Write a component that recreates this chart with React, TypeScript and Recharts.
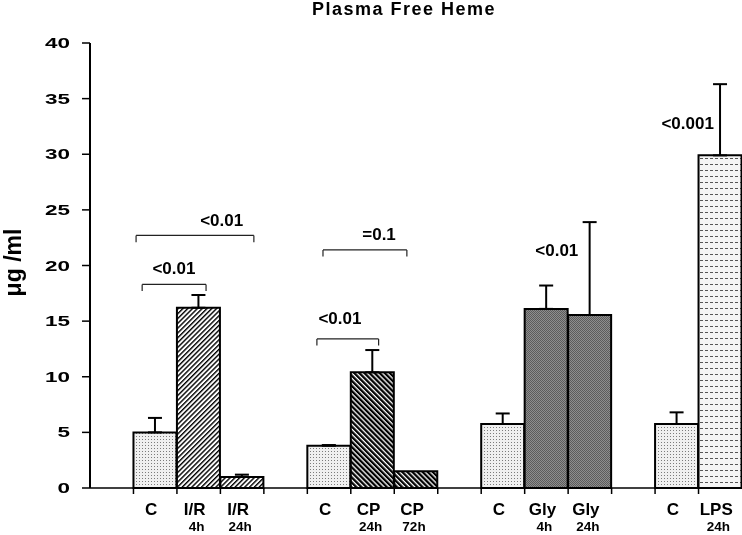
import {
  BarChart,
  Bar,
  Cell,
  XAxis,
  YAxis,
  ErrorBar,
  ReferenceLine,
  ReferenceDot,
} from "recharts";

const slotIds = ["s0", "c1", "ir4", "ir24", "s1", "c2", "cp24", "cp72", "s2", "c3", "gly4", "gly24", "s3", "c4", "lps24"];
const labelTop = ["", "C", "I/R", "I/R", "", "C", "CP", "CP", "", "C", "Gly", "Gly", "", "C", "LPS"];
const labelBottom = ["", "", "4h", "24h", "", "", "24h", "72h", "", "", "4h", "24h", "", "", "24h"];
const means = [null, 5.0, 16.2, 1.0, null, 3.8, 10.4, 1.5, null, 5.75, 16.1, 15.55, null, 5.75, 29.9];
const sems = [null, 1.3, 1.15, 0.2, null, 0.06, 2.0, null, null, 0.95, 2.1, 8.35, null, 1.05, 6.4];
const yTicks = [0, 5, 10, 15, 20, 25, 30, 35, 40];

// significance brackets, in slot units on the x axis
const brackets = [
  { from: 1.06, to: 3.77, y: 22.7 },
  { from: 1.2, to: 2.67, y: 18.3 },
  { from: 5.36, to: 7.29, y: 21.4 },
  { from: 5.22, to: 6.64, y: 13.4 },
];
const pLabels = [
  { text: "<0.01", x: 3.03, y: 24.1 },
  { text: "<0.01", x: 1.93, y: 19.8 },
  { text: "=0.1", x: 6.65, y: 22.8 },
  { text: "<0.01", x: 5.75, y: 15.3 },
  { text: "<0.01", x: 10.74, y: 21.4 },
  { text: "<0.001", x: 13.75, y: 32.8 },
];

const slotPattern = [null, "dots", "fwd", "fwd", null, "dots", "back", "back", null, "dots", "mesh", "mesh", null, "dots", "dash"];

const W = 742;
const H = 535;
const Y_W = 90;
const X_H = 47;
const BAND = (W - Y_W) / slotIds.length;
const FONT = "'Liberation Sans', Arial, sans-serif";

const data = slotIds.map((id, i) => ({
  id,
  slot: i,
  value: means[i],
  err: sems[i] == null ? null : [0, sems[i]],
}));

const XTick = ({ x, y, payload }: any) => {
  const i = payload.index;
  return (
    <g>
      {i > 0 && <line x1={x - BAND / 2} x2={x - BAND / 2} y1={y} y2={y + 6} stroke="#000" strokeWidth={1.5} />}
      <text x={x - 4} y={y + 27} textAnchor="middle" fontFamily={FONT} fontWeight="bold" fontSize={17} fill="#000">
        {labelTop[i]}
      </text>
      <text x={x - 2} y={y + 43} textAnchor="middle" fontFamily={FONT} fontWeight="bold" fontSize={13.5} fill="#000">
        {labelBottom[i]}
      </text>
    </g>
  );
};

const YTick = ({ x, y, payload }: any) => {
  const s = String(payload.value);
  return (
    <text
      x={x}
      y={y}
      dy={5}
      textAnchor="end"
      fontFamily={FONT}
      fontWeight="bold"
      fontSize={14}
      fill="#000"
      textLength={s.length * 12.5}
      lengthAdjust="spacingAndGlyphs"
    >
      {s}
    </text>
  );
};

const YLabel = ({ viewBox }: any) => (
  <text
    transform={`translate(21, ${viewBox.y + viewBox.height / 2 - 3}) rotate(-90)`}
    textAnchor="middle"
    fontFamily={FONT}
    fontWeight="bold"
    fontSize={23}
    fill="#000"
  >
    μg /ml
  </text>
);

export default function App() {
  return (
    <div style={{ position: "fixed", left: 0, top: 0, width: W, height: H, background: "#fff" }}>
      <div
        style={{
          position: "absolute",
          top: 0,
          left: 404,
          transform: "translateX(-50%)",
          whiteSpace: "nowrap",
          fontFamily: FONT,
          fontWeight: "bold",
          fontSize: 18,
          lineHeight: "18px",
          letterSpacing: 1.5,
          color: "#000",
        }}
      >
        Plasma Free Heme
      </div>
      <BarChart
        width={W}
        height={H}
        data={data}
        margin={{ top: 43, right: 0, bottom: 0, left: 0 }}
        barCategoryGap={0}
        barGap={0}
      >
        <defs>
          <pattern id="dots" patternUnits="userSpaceOnUse" width={3} height={3}>
            <rect width={3} height={3} fill="#f0f0f0" />
            <rect x={1} y={1} width={1} height={1} fill="#7c7c7c" />
          </pattern>
          <pattern id="fwd" patternUnits="userSpaceOnUse" width={3.4} height={3.4} patternTransform="rotate(45)">
            <rect width={3.4} height={3.4} fill="#fff" />
            <rect width={1.4} height={3.4} fill="#000" />
          </pattern>
          <pattern id="back" patternUnits="userSpaceOnUse" width={3.6} height={3.6} patternTransform="rotate(-45)">
            <rect width={3.6} height={3.6} fill="#fff" />
            <rect width={2.3} height={3.6} fill="#000" />
          </pattern>
          <pattern id="mesh" patternUnits="userSpaceOnUse" width={2} height={2}>
            <rect width={2} height={2} fill="#8e8e8e" />
            <rect width={1} height={1} fill="#5c5c5c" />
            <rect x={1} y={1} width={1} height={1} fill="#5c5c5c" />
          </pattern>
          <pattern id="dash" patternUnits="userSpaceOnUse" width={5} height={6}>
            <rect width={5} height={6} fill="#f4f4f4" />
            <rect x={0} y={2} width={3} height={1} fill="#555" />
          </pattern>
        </defs>
        <XAxis
          xAxisId="cat"
          dataKey="id"
          type="category"
          height={X_H}
          axisLine={{ stroke: "#000", strokeWidth: 1.5 }}
          tickLine={false}
          tickSize={0}
          tickMargin={0}
          interval={0}
          tick={<XTick />}
        />
        <XAxis
          xAxisId="num"
          dataKey="slot"
          type="number"
          scale="linear"
          domain={[0, slotIds.length]}
          ticks={[0, slotIds.length]}
          allowDataOverflow
          hide
        />
        <YAxis
          domain={[0, 40]}
          ticks={yTicks}
          width={Y_W}
          axisLine={{ stroke: "#000", strokeWidth: 2 }}
          tickLine={{ stroke: "#000", strokeWidth: 1.5 }}
          tickSize={8}
          tickMargin={12}
          tick={<YTick />}
          label={<YLabel />}
        />
        <Bar xAxisId="cat" dataKey="value" stroke="#000" strokeWidth={2} isAnimationActive={false}>
          {data.map((d, i) => (
            <Cell key={d.id} fill={slotPattern[i] ? `url(#${slotPattern[i]})` : "none"} />
          ))}
          <ErrorBar dataKey="err" direction="y" width={7} stroke="#000" strokeWidth={2} />
        </Bar>
        {brackets.map((b, i) => [
          <ReferenceLine
            key={`h${i}`}
            xAxisId="num"
            segment={[{ x: b.from, y: b.y }, { x: b.to, y: b.y }]}
            stroke="#222"
            strokeWidth={1.2}
          />,
          <ReferenceLine
            key={`l${i}`}
            xAxisId="num"
            segment={[{ x: b.from, y: b.y }, { x: b.from, y: b.y - 0.6 }]}
            stroke="#222"
            strokeWidth={1.2}
          />,
          <ReferenceLine
            key={`r${i}`}
            xAxisId="num"
            segment={[{ x: b.to, y: b.y }, { x: b.to, y: b.y - 0.6 }]}
            stroke="#222"
            strokeWidth={1.2}
          />,
        ])}
        {pLabels.map((p, i) => (
          <ReferenceDot
            key={`p${i}`}
            xAxisId="num"
            x={p.x}
            y={p.y}
            r={0}
            fill="none"
            stroke="none"
            label={{
              value: p.text,
              position: "center",
              fontSize: 17,
              fontWeight: "bold",
              fontFamily: FONT,
              fill: "#000",
            }}
          />
        ))}
      </BarChart>
    </div>
  );
}
